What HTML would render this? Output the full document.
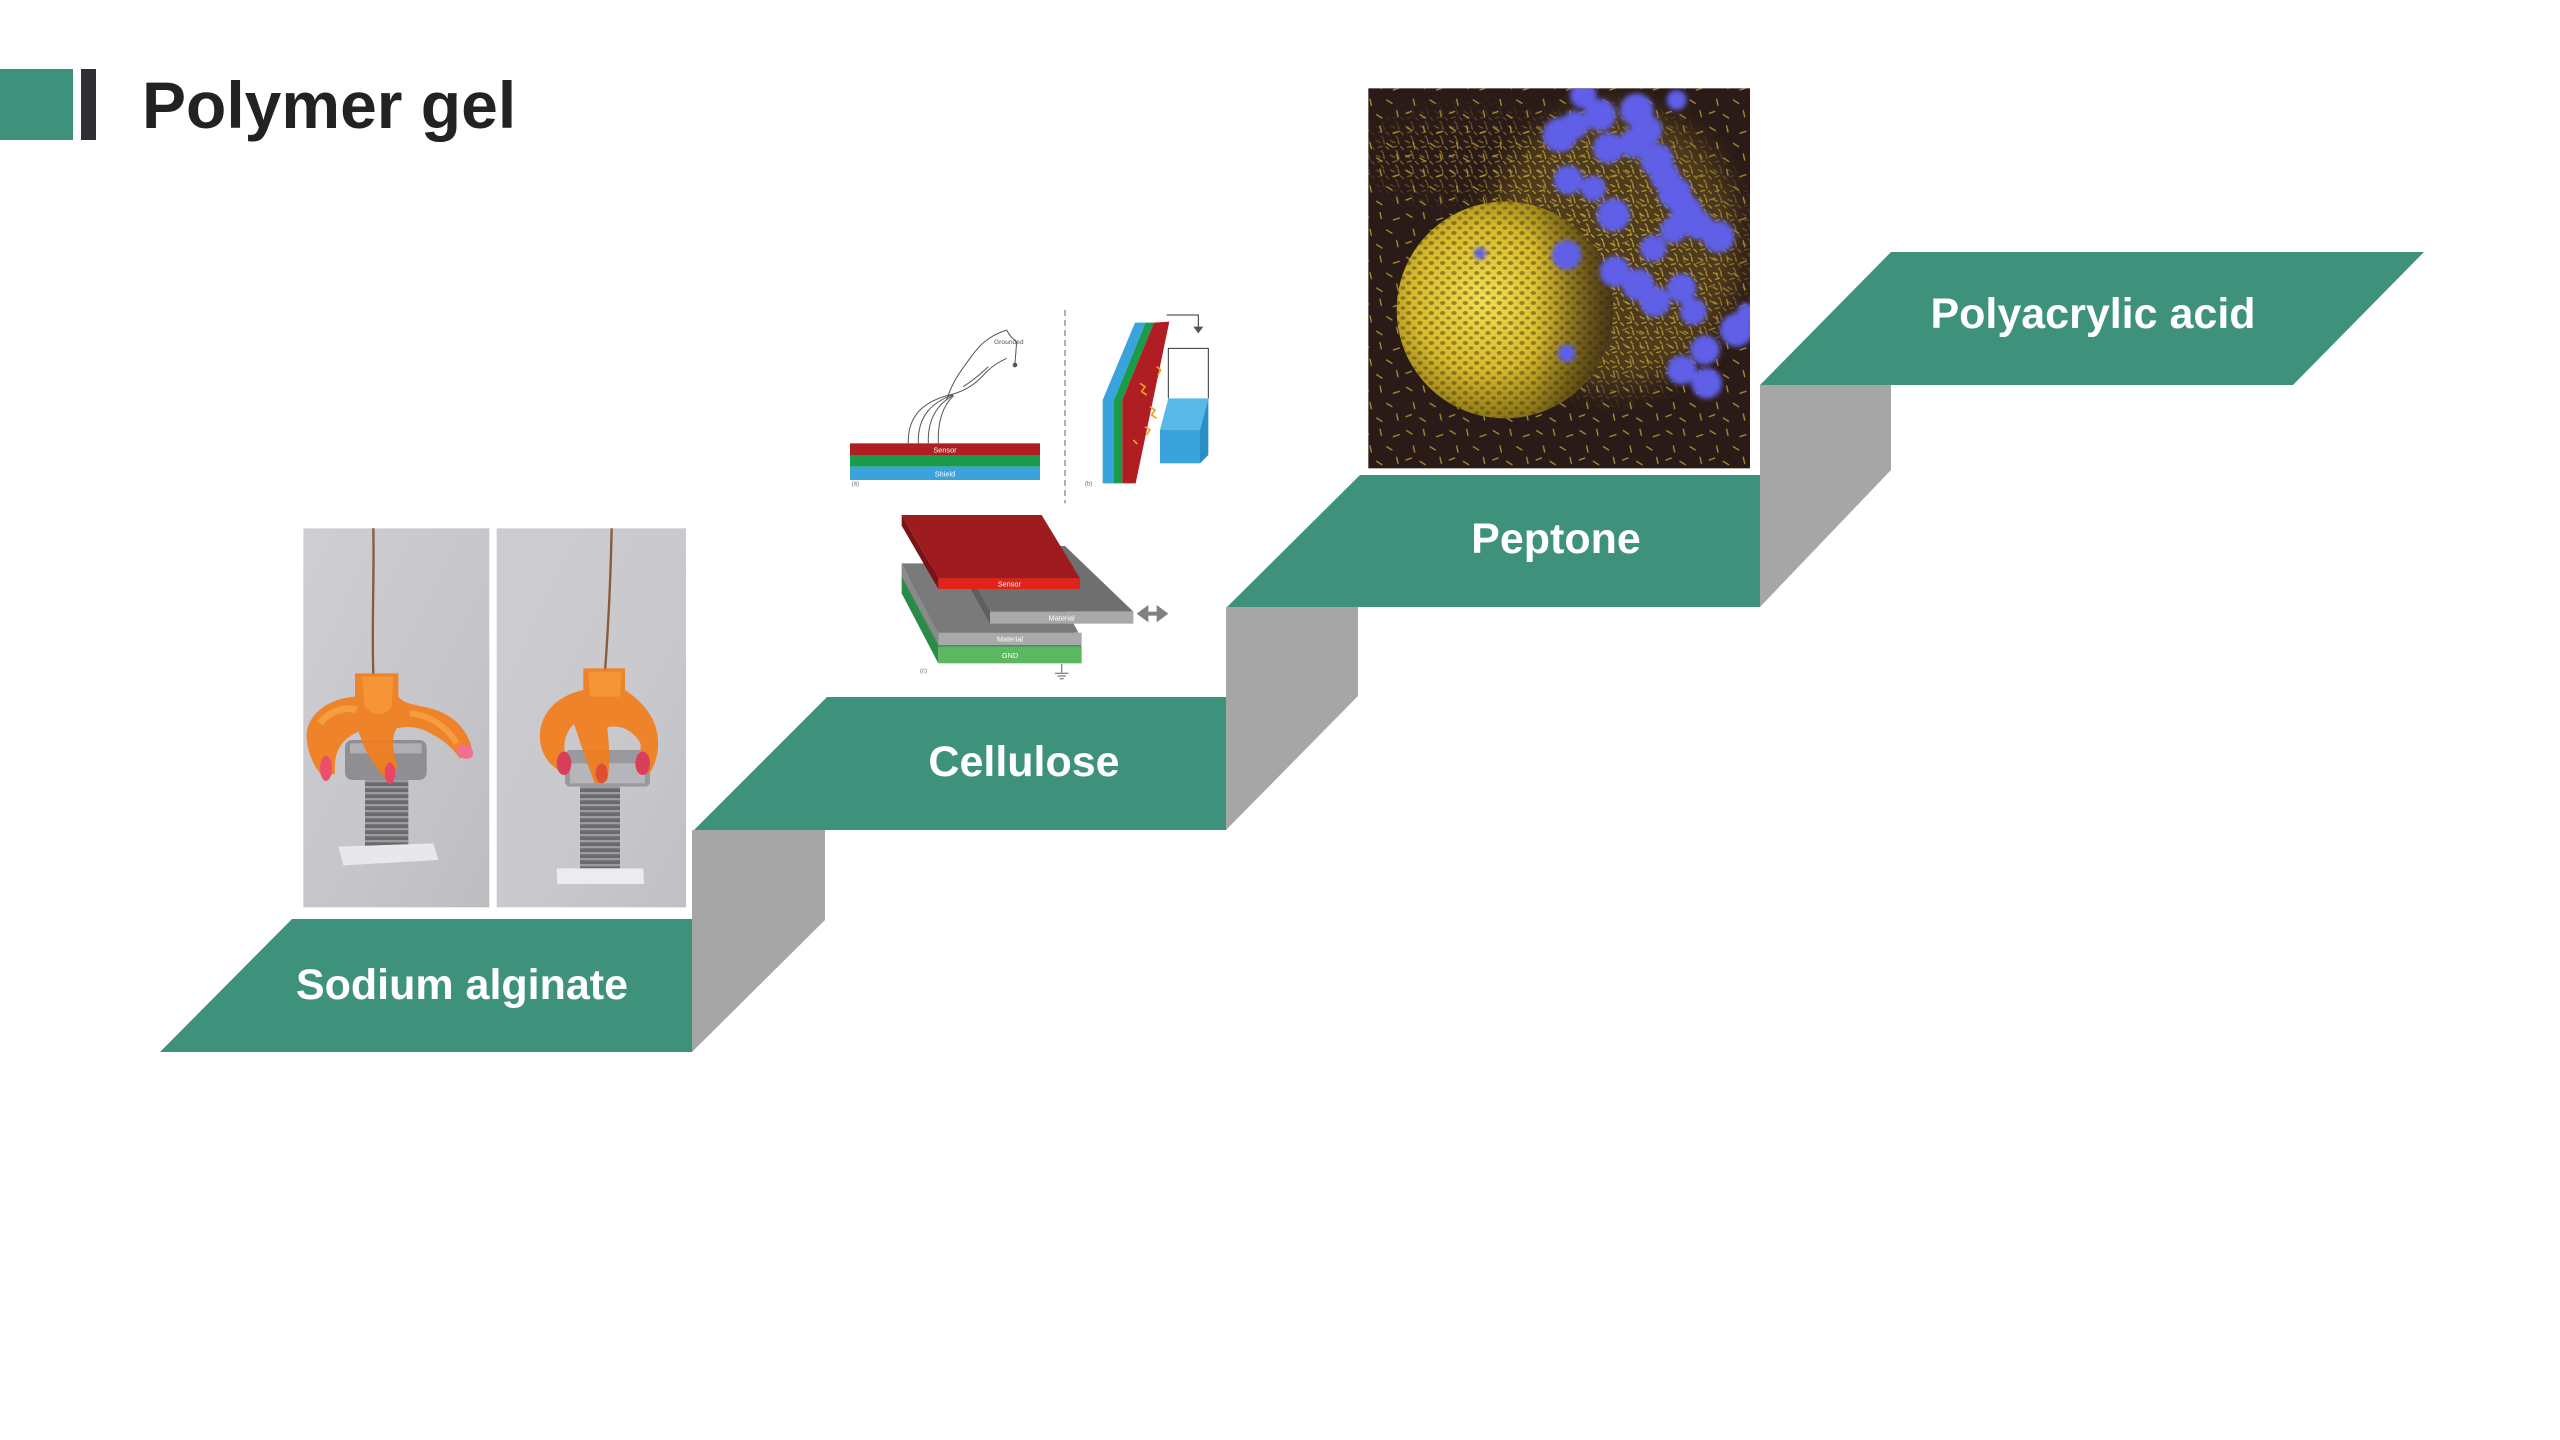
<!DOCTYPE html>
<html>
<head>
<meta charset="utf-8">
<style>
html,body{margin:0;padding:0;background:#fff;}
body{width:2560px;height:1440px;overflow:hidden;position:relative;}
svg{position:absolute;left:0;top:0;}
</style>
</head>
<body>
<svg width="2560" height="1440" viewBox="0 0 2560 1440" xmlns="http://www.w3.org/2000/svg">
<defs>
  <linearGradient id="photoL" x1="0" y1="0" x2="1" y2="1">
    <stop offset="0" stop-color="#cfced2"/>
    <stop offset="0.6" stop-color="#c6c5c9"/>
    <stop offset="1" stop-color="#bdbcc0"/>
  </linearGradient>
  <linearGradient id="photoR" x1="0" y1="0" x2="1" y2="1">
    <stop offset="0" stop-color="#cdcdd1"/>
    <stop offset="0.6" stop-color="#c9c9cd"/>
    <stop offset="1" stop-color="#c0c0c4"/>
  </linearGradient>
  <pattern id="thread" width="20" height="18" patternUnits="userSpaceOnUse">
    <rect width="20" height="18" fill="#6a6a6c"/>
    <rect y="0" width="20" height="7" fill="#9c9c9e"/>
  </pattern>
  <radialGradient id="sphereG" cx="0.4" cy="0.45" r="0.6">
    <stop offset="0" stop-color="#f2de52"/>
    <stop offset="0.55" stop-color="#d6ba2c"/>
    <stop offset="1" stop-color="#7e6a12"/>
  </radialGradient>
  <linearGradient id="sphereShade" x1="0" y1="0" x2="1" y2="0">
    <stop offset="0" stop-color="#2a1b18" stop-opacity="0"/>
    <stop offset="0.62" stop-color="#2a1b18" stop-opacity="0"/>
    <stop offset="1" stop-color="#2a1b18" stop-opacity="0.7"/>
  </linearGradient>
  <pattern id="mesh" width="34" height="30" patternUnits="userSpaceOnUse">
    <ellipse cx="10" cy="9" rx="8" ry="6" fill="#4a3810"/>
    <ellipse cx="27" cy="24" rx="7" ry="5" fill="#4a3810"/>
  </pattern>
  <pattern id="rods" width="130" height="130" patternUnits="userSpaceOnUse">
    <g stroke="#c9aa3c" stroke-width="4" stroke-linecap="round">
      <line x1="10" y1="12" x2="26" y2="22"/>
      <line x1="60" y1="8" x2="64" y2="26"/>
      <line x1="100" y1="30" x2="118" y2="24"/>
      <line x1="30" y1="58" x2="34" y2="76"/>
      <line x1="80" y1="60" x2="96" y2="70"/>
      <line x1="8" y1="100" x2="24" y2="94"/>
      <line x1="50" y1="104" x2="66" y2="114"/>
      <line x1="110" y1="92" x2="114" y2="110"/>
    </g>
  </pattern>
  <pattern id="rodsDense" width="44" height="44" patternUnits="userSpaceOnUse">
    <g stroke="#d0b040" stroke-width="4" stroke-linecap="round">
      <line x1="4" y1="6" x2="16" y2="12"/>
      <line x1="26" y1="3" x2="29" y2="16"/>
      <line x1="34" y1="24" x2="42" y2="32"/>
      <line x1="10" y1="26" x2="22" y2="23"/>
      <line x1="20" y1="36" x2="25" y2="43"/>
    </g>
  </pattern>
  <filter id="blur40" x="-50%" y="-50%" width="200%" height="200%"><feGaussianBlur stdDeviation="40"/></filter>
  <filter id="blur5"><feGaussianBlur stdDeviation="7"/></filter>
  <clipPath id="sphereClip"><circle cx="435" cy="690" r="325"/></clipPath>
  <clipPath id="pepClip"><rect x="25" y="25" width="1145" height="1140"/></clipPath>
  <radialGradient id="haloG" cx="0.5" cy="0.5" r="0.5">
    <stop offset="0" stop-color="#fff" stop-opacity="1"/>
    <stop offset="0.7" stop-color="#fff" stop-opacity="0.8"/>
    <stop offset="1" stop-color="#fff" stop-opacity="0"/>
  </radialGradient>
  <mask id="haloMask">
    <ellipse cx="760" cy="520" rx="460" ry="480" fill="url(#haloG)"/>
    <ellipse cx="330" cy="230" rx="320" ry="120" fill="#fff" fill-opacity="0.6" filter="url(#blur40)"/>
  </mask>
</defs>

<!-- Header -->
<rect x="0" y="69" width="73" height="71" fill="#3e917a"/>
<rect x="81" y="69" width="15" height="71" fill="#2e2e33"/>
<text x="142" y="128" font-family="Liberation Sans, Arial, sans-serif" font-weight="bold" font-size="66" fill="#222">Polymer gel</text>

<!-- Gray side faces -->
<polygon points="692,830 825,830 825,920 692,1052" fill="#a6a6a6"/>
<polygon points="1226,607 1358,607 1358,696 1226,830" fill="#a6a6a6"/>
<polygon points="1760,385 1891,385 1891,470 1760,607" fill="#a6a6a6"/>

<!-- Green steps -->
<polygon points="292,919 692,919 692,1052 160,1052" fill="#3e917a"/>
<polygon points="827,697 1226,697 1226,830 694,830" fill="#3e917a"/>
<polygon points="1360,475 1760,475 1760,607 1227,607" fill="#3e917a"/>
<polygon points="1891,252 2424,252 2293,385 1760,385" fill="#3e917a"/>

<g font-family="Liberation Sans, Arial, sans-serif" font-weight="bold" font-size="43" fill="#fff" text-anchor="middle">
  <text x="462" y="999">Sodium alginate</text>
  <text x="1024" y="776">Cellulose</text>
  <text x="1556" y="553">Peptone</text>
  <text x="2093" y="328">Polyacrylic acid</text>
</g>

<!-- Sodium alginate photos (zoom coords) -->
<g transform="translate(290,510) scale(0.33333)">
  <rect x="40" y="55" width="558" height="1137" fill="url(#photoL)"/>
  <rect x="620" y="55" width="568" height="1137" fill="url(#photoR)"/>
  <!-- left photo -->
  <path d="M250,55 C253,200 245,350 250,495" stroke="#8a5a3c" stroke-width="7" fill="none"/>
  <rect x="225" y="800" width="130" height="210" fill="url(#thread)"/>
  <polygon points="145,1010 430,1000 445,1050 160,1066" fill="#e8e8ea"/>
  <rect x="165" y="690" width="245" height="120" rx="22" fill="#8f8f93"/>
  <rect x="180" y="700" width="215" height="30" fill="#b0b0b4"/>
  <path d="M195,560 C120,565 50,610 50,680 C52,740 85,790 105,805 L135,790 C130,730 150,690 205,665 L215,690 C230,735 265,785 295,815 L322,770 C312,725 300,690 320,655 C360,645 400,655 430,675 C470,695 495,725 510,745 L548,735 C545,680 505,620 432,598 C385,584 345,585 325,560 L325,490 L195,490 Z" fill="#f27d1c" opacity="0.92"/>
  <path d="M215,500 L310,500 L305,590 C280,620 250,620 225,590 Z" fill="#f89a3a" opacity="0.8"/>
  <path d="M90,640 C120,600 170,590 200,600" stroke="#f9b050" stroke-width="20" fill="none" opacity="0.6"/>
  <path d="M360,610 C420,615 470,650 500,700" stroke="#f9b050" stroke-width="18" fill="none" opacity="0.6"/>
  <ellipse cx="108" cy="775" rx="18" ry="38" fill="#ec4f6a"/>
  <ellipse cx="300" cy="790" rx="16" ry="32" fill="#ec4464"/>
  <ellipse cx="525" cy="725" rx="26" ry="20" fill="#f07090" transform="rotate(30 525 725)"/>
  <!-- right photo -->
  <path d="M965,55 C962,200 955,350 945,485" stroke="#8a5a3c" stroke-width="7" fill="none"/>
  <rect x="870" y="825" width="120" height="250" fill="url(#thread)"/>
  <polygon points="800,1075 1060,1075 1062,1122 802,1122" fill="#ececee"/>
  <rect x="825" y="720" width="255" height="110" rx="15" fill="#9a9a9e"/>
  <rect x="840" y="760" width="225" height="60" fill="#b6b6ba"/>
  <path d="M880,540 C790,560 745,620 750,690 C755,745 790,772 812,785 L835,762 C815,720 820,672 852,642 C872,702 892,762 915,822 L952,812 C962,762 957,702 952,652 C992,642 1032,662 1052,702 C1052,742 1047,772 1040,785 L1077,792 C1112,742 1117,662 1072,602 C1042,562 1012,545 1005,540 L1005,475 L880,475 Z" fill="#f27d1c" opacity="0.92"/>
  <path d="M895,485 L995,485 L990,560 L900,560 Z" fill="#f89a3a" opacity="0.8"/>
  <ellipse cx="822" cy="760" rx="22" ry="35" fill="#d8405a"/>
  <ellipse cx="1058" cy="760" rx="22" ry="35" fill="#d8405a"/>
  <ellipse cx="935" cy="790" rx="18" ry="30" fill="#e05030"/>
</g>

<!-- Cellulose diagram (zoom coords) -->
<g transform="translate(820,300) scale(0.33333)">
  <line x1="735" y1="30" x2="735" y2="610" stroke="#8a8a8a" stroke-width="4" stroke-dasharray="18,12"/>
  <!-- (a) -->
  <rect x="90" y="430" width="570" height="35" fill="#b01e24"/>
  <rect x="90" y="465" width="570" height="35" fill="#1a9b4a"/>
  <rect x="90" y="500" width="570" height="40" fill="#3aa3dc"/>
  <text x="375" y="457" font-family="Liberation Sans, sans-serif" font-size="22" fill="#fff" text-anchor="middle">Sensor</text>
  <text x="375" y="530" font-family="Liberation Sans, sans-serif" font-size="22" fill="#fff" text-anchor="middle">Shield</text>
  <text x="95" y="556" font-family="Liberation Sans, sans-serif" font-size="18" fill="#666">(a)</text>
  <g stroke="#555" stroke-width="3" fill="none">
    <path d="M265,430 C262,340 320,300 400,282"/>
    <path d="M295,430 C292,345 340,305 400,284"/>
    <path d="M325,430 C322,355 355,310 400,286"/>
    <path d="M355,430 C352,365 370,315 400,288"/>
    <path d="M380,300 C395,250 420,215 450,175 C475,140 500,110 560,90"/>
    <path d="M400,282 C440,270 470,250 500,215 C520,195 540,185 560,175"/>
    <path d="M430,260 C460,240 480,225 505,200"/>
    <path d="M560,90 C565,100 575,115 590,125 L585,190"/>
  </g>
  <circle cx="585" cy="195" r="7" fill="#555"/>
  <text x="522" y="132" font-family="Liberation Sans, sans-serif" font-size="20" fill="#555">Grounded</text>
  <!-- (b) -->
  <polygon points="848,550 882,550 882,300 977,68 945,68 848,300" fill="#3aa3dc"/>
  <polygon points="882,550 907,550 907,300 1002,68 977,68 882,300" fill="#1a9b4a"/>
  <polygon points="907,550 947,550 1048,65 1002,68 907,300" fill="#b01e24"/>
  <g stroke="#f0a020" stroke-width="5" fill="none">
    <path d="M960,250 l15,10 l-10,15 l15,10"/>
    <path d="M990,320 l15,10 l-10,15 l15,10"/>
    <path d="M1010,200 l12,10 l-8,15"/>
    <path d="M975,380 l15,10 l-10,15"/>
    <path d="M940,420 l12,12"/>
  </g>
  <g stroke="#333" stroke-width="3" fill="none">
    <path d="M1045,295 L1045,145 L1165,145 L1165,295"/>
    <path d="M1040,45 L1135,45 L1135,85"/>
  </g>
  <polygon points="1120,80 1150,80 1135,100" fill="#555"/>
  <polygon points="1020,390 1045,295 1165,295 1140,390" fill="#5ab8e8"/>
  <rect x="1020" y="390" width="120" height="100" fill="#3aa3dc"/>
  <polygon points="1140,390 1165,295 1165,465 1140,490" fill="#2a8fc6"/>
  <text x="795" y="556" font-family="Liberation Sans, sans-serif" font-size="18" fill="#666">(b)</text>
  <!-- (c) -->
  <polygon points="245,830 675,830 785,1040 355,1040" fill="#1f7d3e"/>
  <polygon points="245,830 355,1040 355,1090 245,880" fill="#2a8a48"/>
  <rect x="355" y="1040" width="430" height="50" fill="#5cb860"/>
  <text x="570" y="1074" font-family="Liberation Sans, sans-serif" font-size="22" fill="#fff" text-anchor="middle">GND</text>
  <polygon points="245,790 665,790 775,998 355,998" fill="#7a7a7a"/>
  <polygon points="245,790 355,998 355,1035 245,828" fill="#8a8a8a"/>
  <rect x="355" y="998" width="430" height="38" fill="#a9a9a9"/>
  <text x="570" y="1025" font-family="Liberation Sans, sans-serif" font-size="22" fill="#fff" text-anchor="middle">Material</text>
  <polygon points="400,738 735,738 940,935 510,935" fill="#6f6f6f"/>
  <polygon points="400,738 510,935 510,970 400,775" fill="#5e5e5e"/>
  <rect x="510" y="935" width="430" height="36" fill="#a9a9a9"/>
  <text x="725" y="962" font-family="Liberation Sans, sans-serif" font-size="22" fill="#fff" text-anchor="middle">Material</text>
  <polygon points="245,645 665,645 780,835 355,835" fill="#9e1b1f"/>
  <polygon points="245,645 355,835 355,867 245,677" fill="#7a1216"/>
  <rect x="355" y="835" width="425" height="32" fill="#e2231a"/>
  <text x="568" y="860" font-family="Liberation Sans, sans-serif" font-size="22" fill="#fff" text-anchor="middle">Sensor</text>
  <g fill="#808080">
    <rect x="975" y="935" width="45" height="12"/>
    <polygon points="950,941 985,915 985,967"/>
    <polygon points="1045,941 1010,915 1010,967"/>
  </g>
  <g stroke="#888" stroke-width="4">
    <line x1="725" y1="1092" x2="725" y2="1118"/>
    <line x1="705" y1="1120" x2="745" y2="1120"/>
    <line x1="712" y1="1128" x2="738" y2="1128"/>
    <line x1="719" y1="1136" x2="731" y2="1136"/>
  </g>
  <text x="300" y="1118" font-family="Liberation Sans, sans-serif" font-size="18" fill="#666">(c)</text>
</g>

<!-- Peptone image (zoom coords) -->
<g transform="translate(1360,80) scale(0.33333)">
  <rect x="25" y="25" width="1145" height="1140" fill="#2a1b18"/>
  <g clip-path="url(#pepClip)">
    <rect x="25" y="25" width="1145" height="1140" fill="url(#rods)" opacity="0.8"/>
    <ellipse cx="760" cy="500" rx="380" ry="420" fill="#7a6224" opacity="0.45" filter="url(#blur40)"/>
    <rect x="25" y="25" width="1145" height="1140" fill="url(#rodsDense)" mask="url(#haloMask)" opacity="0.9"/>
    <circle cx="435" cy="690" r="325" fill="url(#sphereG)"/>
    <g clip-path="url(#sphereClip)">
      <rect x="100" y="360" width="680" height="680" fill="url(#mesh)" opacity="0.5"/>
      <rect x="100" y="360" width="680" height="680" fill="url(#sphereShade)"/>
    </g>
    <g fill="#5e5ee8" filter="url(#blur5)">
      <circle cx="670" cy="45" r="40"/>
      <circle cx="720" cy="105" r="48"/>
      <circle cx="830" cy="90" r="50"/>
      <circle cx="860" cy="150" r="46"/>
      <circle cx="600" cy="165" r="52"/>
      <circle cx="645" cy="135" r="42"/>
      <circle cx="745" cy="205" r="46"/>
      <circle cx="820" cy="190" r="44"/>
      <circle cx="890" cy="240" r="50"/>
      <circle cx="915" cy="290" r="44"/>
      <circle cx="945" cy="340" r="50"/>
      <circle cx="980" cy="395" r="48"/>
      <circle cx="1015" cy="435" r="44"/>
      <circle cx="1075" cy="470" r="48"/>
      <circle cx="940" cy="450" r="40"/>
      <circle cx="620" cy="525" r="44"/>
      <circle cx="625" cy="300" r="44"/>
      <circle cx="760" cy="405" r="50"/>
      <circle cx="700" cy="325" r="38"/>
      <circle cx="765" cy="575" r="46"/>
      <circle cx="835" cy="615" r="48"/>
      <circle cx="885" cy="665" r="46"/>
      <circle cx="965" cy="625" r="44"/>
      <circle cx="1000" cy="695" r="40"/>
      <circle cx="880" cy="505" r="40"/>
      <circle cx="1130" cy="750" r="50"/>
      <circle cx="1035" cy="810" r="44"/>
      <circle cx="965" cy="870" r="44"/>
      <circle cx="1040" cy="910" r="46"/>
      <circle cx="950" cy="60" r="30"/>
      <circle cx="1160" cy="700" r="30"/>
      <circle cx="620" cy="820" r="26"/>
      <circle cx="360" cy="520" r="18"/>
    </g>
  </g>
</g>
</svg>
</body>
</html>
